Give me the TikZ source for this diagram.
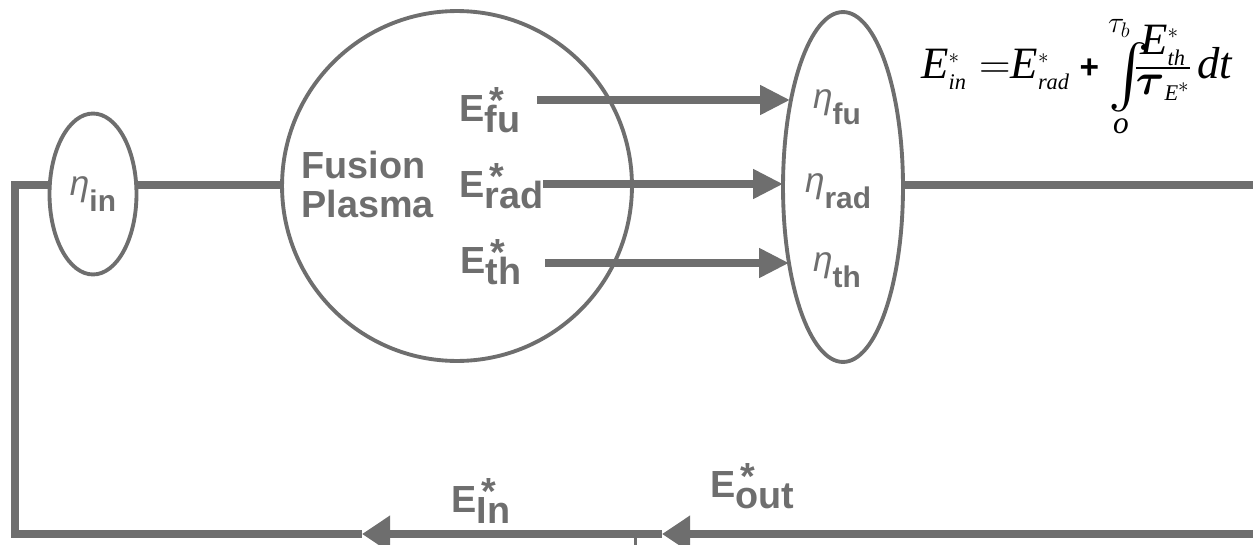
\documentclass[tikz,border=0pt]{standalone}
\usepackage{amsmath,amssymb}
\usepackage{graphicx}
\usepackage{fontspec}
\setmainfont{Liberation Serif}
\setsansfont{Liberation Sans}
\usepackage{xcolor}
\usetikzlibrary{arrows.meta,shapes.geometric}

\definecolor{inkgray}{HTML}{6E6E6E}
\newcommand{\Elab}[1]{E\rlap{\hspace{0.12em}\raisebox{0.2em}{*}}\raisebox{-0.3em}{#1}}
\newcommand{\etalab}[1]{{\mdseries\itshape\fontsize{20}{20}\selectfont η}\raisebox{-0.55em}{#1}}
\newcommand{\lawsub}[1]{{\scriptscriptstyle #1}}

\tikzset{
  pipe/.style={line width=4pt,draw=inkgray},
  flow/.style={pipe,-{Triangle[length=17pt,width=16pt]}},
  backflow/.style={pipe,-{Triangle[length=16pt,width=20pt]}},
  vessel/.style={draw=inkgray,line width=2.2pt,inner sep=0pt},
  elab/.style={text=inkgray,font=\sffamily\bfseries\fontsize{21.5}{22}\selectfont,inner sep=0pt,anchor=base west},
  etaname/.style={text=inkgray,font=\sffamily\bfseries\fontsize{17}{18}\selectfont,inner sep=0pt},
}

\begin{document}
\begin{tikzpicture}[x=0.02cm,y=-0.02cm,line join=miter]
  \useasboundingbox (0,0) rectangle (1253,544);
  \coordinate (TL) at (15,185);
  \coordinate (BL) at (15,534);
  \coordinate (TR) at (1265,185);
  \coordinate (BR) at (1265,534);
  \coordinate (OUTtip) at (662,534);
  \coordinate (INtip) at (362,534);
  \coordinate (J) at (635,534);
  \coordinate (Jend) at (635,560);
  \coordinate (FU0) at (537,100);
  \coordinate (FU1) at (790,100);
  \coordinate (RAD0) at (543,184);
  \coordinate (RAD1) at (783,184);
  \coordinate (TH0) at (545,263);
  \coordinate (TH1) at (789,263);

  % vessels
  \node[vessel,etaname,ellipse,minimum width=1.74cm,minimum height=3.22cm] (etain) at (93,194) {\etalab{in}};
  \node[vessel,circle,minimum size=7cm] (plasma) at (457,186) {};
  \node[vessel,ellipse,minimum width=2.4cm,minimum height=7cm] (etaout) at (843,187) {};

  % loop
  \draw[pipe] (etain.west |- TL) -- (TL) -- (BL) -- (INtip);
  \draw[pipe] (etain.east |- TL) -- (plasma.west |- TL);
  \draw[pipe] (etaout.east |- TR) -- (TR);
  \draw[backflow] (BR) -- (OUTtip);
  \draw[backflow] (OUTtip) -- (INtip);
  \draw[inkgray,line width=1.7pt] (J) -- (Jend);

  % energy flows
  \draw[flow] (FU0) -- (FU1);
  \draw[flow] (RAD0) -- (RAD1);
  \draw[flow] (TH0) -- (TH1);

  \node[elab,anchor=north west,align=left] (fusion) at (301,151) {Fusion\\Plasma};
  \node[elab] (efu) at (459,121) {\Elab{fu}};
  \node[elab] (erad) at (459,197) {\Elab{rad}};
  \node[elab] (eth) at (460,273) {\Elab{th}};
  \node[elab] (ein) at (451,512) {\Elab{In}};
  \node[elab] (eout) at (710,497) {\Elab{out}};

  \node[etaname] (etafu) at (837,107) {\etalab{fu}};
  \node[etaname] (etarad) at (838,191) {\etalab{rad}};
  \node[etaname] (etath) at (837,270) {\etalab{th}};

  \node[anchor=base west,inner sep=0pt,font=\fontsize{25.5}{28}\selectfont] (law) at (921,79)
    {$\mathit{E}^{\lawsub{*}}_{\lawsub{\mathit{in}}}\;{=}\mathit{E}^{\lawsub{*}}_{\lawsub{\mathit{rad}}}\mathbin{\text{\fontsize{19}{19}\selectfont\sffamily\bfseries +}}\mathop{\raisebox{-5pt}{$\vcenter{\hbox{\scalebox{1.4}{$\int$}}}$}}\limits_{\raisebox{16pt}[0pt][0pt]{\makebox[0pt]{$\scriptstyle\mathit{o}$\hspace{10pt}}}}^{\raisebox{-13pt}[0pt][0pt]{\makebox[0pt]{$\scriptstyle\tau_b$\hspace{12pt}}}}\mkern-10mu\frac{\textstyle\mathit{E}^{\lawsub{*}}_{\lawsub{\mathit{th}}}}{\textstyle\boldsymbol{\tau}_{\lawsub{\mathit{E}^{*}}}}\mkern2mu\mathit{dt}$};
\end{tikzpicture}
\end{document}
